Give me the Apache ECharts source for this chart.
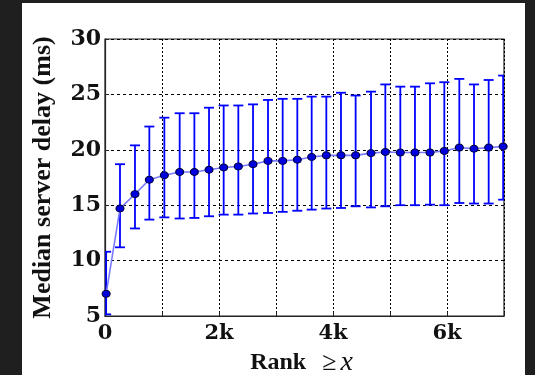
<!DOCTYPE html>
<html>
<head>
<meta charset="utf-8">
<script src="https://cdn.jsdelivr.net/npm/echarts@6/dist/echarts.min.js"></script>
<style>
html,body{margin:0;padding:0;background:#1f1f1f;width:535px;height:375px;overflow:hidden;}
#wrap{position:absolute;left:22px;top:3px;width:503px;height:372px;background:#fff;}
#chart{width:503px;height:372px;}
</style>
</head>
<body>
<div id="wrap"><div id="chart"></div></div>
<script>
// Rank threshold (x) for each point
const rankX = [20, 263, 526, 778, 1041, 1310, 1568, 1825, 2082, 2339, 2597, 2860, 3117, 3374, 3626, 3883, 4140, 4397, 4667, 4918, 5181, 5438, 5702, 5953, 6216, 6474, 6731, 6985];
// Median server delay (ms)
const medianDelay = [7.0, 14.7, 16.0, 17.3, 17.7, 18.0, 18.0, 18.2, 18.4, 18.5, 18.7, 19.0, 19.0, 19.1, 19.35, 19.5, 19.5, 19.5, 19.7, 19.8, 19.75, 19.75, 19.75, 19.9, 20.2, 20.1, 20.2, 20.3];
// Error bar lower / upper ends
const errLow = [5.15, 11.2, 12.9, 13.7, 13.9, 13.8, 13.85, 14.0, 14.15, 14.15, 14.25, 14.3, 14.4, 14.5, 14.6, 14.7, 14.75, 14.9, 14.8, 14.9, 15.0, 15.0, 15.05, 15.0, 15.2, 15.15, 15.15, 15.5];
const errHigh = [10.8, 18.7, 20.4, 22.1, 22.9, 23.3, 23.3, 23.8, 24.0, 24.0, 24.1, 24.5, 24.6, 24.6, 24.8, 24.8, 25.15, 24.9, 25.25, 25.9, 25.7, 25.7, 26.0, 26.1, 26.4, 25.9, 26.3, 26.7];
// Tick labels
const xTickLabels = {0: '0', 2000: '2k', 4000: '4k', 6000: '6k'};
const yTicks = [5, 10, 15, 20, 25, 30];

const chart = echarts.init(document.getElementById('chart'), null, {renderer: 'canvas'});
const tickFont = "'DejaVu Serif', serif";
const labelFont = "'Liberation Serif', serif";

const lineData = rankX.map((x, i) => [x, medianDelay[i]]);
const errData = rankX.map((x, i) => [x, errLow[i], errHigh[i]]);

const option = {
  animation: false,
  grid: {left: 83, right: 21, top: 36, bottom: 59, containLabel: false, outerBoundsMode: 'none',
         show: true, borderColor: '#222', borderWidth: 1.2, backgroundColor: 'transparent'},
  xAxis: {
    type: 'value', min: 0, max: 7000, interval: 1000,
    axisLine: {show: true, lineStyle: {color: '#222', width: 1.2}},
    axisTick: {show: true, inside: true, length: 4, lineStyle: {color: '#222'}},
    splitLine: {show: true, lineStyle: {color: '#000', type: [2, 2], width: 1}},
    axisLabel: {
      margin: 7, color: '#111', fontFamily: tickFont, fontWeight: 'bold', fontSize: 21,
      formatter: v => (xTickLabels[v] !== undefined ? xTickLabels[v] : '')
    },
    name: '{a|Rank}{b|≥}{c|x}',
    nameLocation: 'middle', nameGap: 31,
    nameTextStyle: {
      rich: {
        a: {fontFamily: labelFont, fontWeight: 'bold', fontSize: 24, color: '#111'},
        b: {fontFamily: labelFont, fontSize: 26, color: '#111', padding: [0, 4, 0, 16]},
        c: {fontFamily: labelFont, fontStyle: 'italic', fontSize: 28, color: '#111', padding: [0, 6, 0, 0]}
      }
    }
  },
  yAxis: {
    type: 'value', min: 5, max: 30, interval: 5,
    axisLine: {show: true, lineStyle: {color: '#222', width: 1.2}},
    axisTick: {show: true, inside: true, length: 4, lineStyle: {color: '#222'}},
    splitLine: {show: true, lineStyle: {color: '#000', type: [3, 3], width: 1}},
    axisLabel: {
      margin: 4, color: '#111', fontFamily: tickFont, fontWeight: 'bold', fontSize: 22,
      formatter: v => (yTicks.indexOf(v) >= 0 ? String(v) : '')
    },
    name: 'Median server delay (ms)',
    nameLocation: 'middle', nameGap: 49,
    nameTextStyle: {fontFamily: labelFont, fontWeight: 'bold', fontSize: 26, color: '#111'}
  },
  series: [
    {
      type: 'custom',
      clip: true,
      z: 2,
      data: errData,
      encode: {x: 0, y: [1, 2]},
      renderItem: function (params, api) {
        const x = api.value(0);
        const pLo = api.coord([x, api.value(1)]);
        const pHi = api.coord([x, api.value(2)]);
        const hw = 5;
        const st = {stroke: '#0000ff', lineWidth: 1.8};
        return {
          type: 'group',
          children: [
            {type: 'line', shape: {x1: pLo[0], y1: pLo[1], x2: pHi[0], y2: pHi[1]}, style: st},
            {type: 'line', shape: {x1: pLo[0] - hw, y1: pLo[1], x2: pLo[0] + hw, y2: pLo[1]}, style: st},
            {type: 'line', shape: {x1: pHi[0] - hw, y1: pHi[1], x2: pHi[0] + hw, y2: pHi[1]}, style: st}
          ]
        };
      }
    },
    {
      type: 'line',
      z: 3,
      data: lineData,
      symbol: 'circle',
      symbolSize: [8, 7],
      lineStyle: {color: '#7a7aff', width: 1.6},
      itemStyle: {color: '#0000dd', borderColor: '#000033', borderWidth: 1}
    }
  ]
};
chart.setOption(option);
</script>
</body>
</html>
